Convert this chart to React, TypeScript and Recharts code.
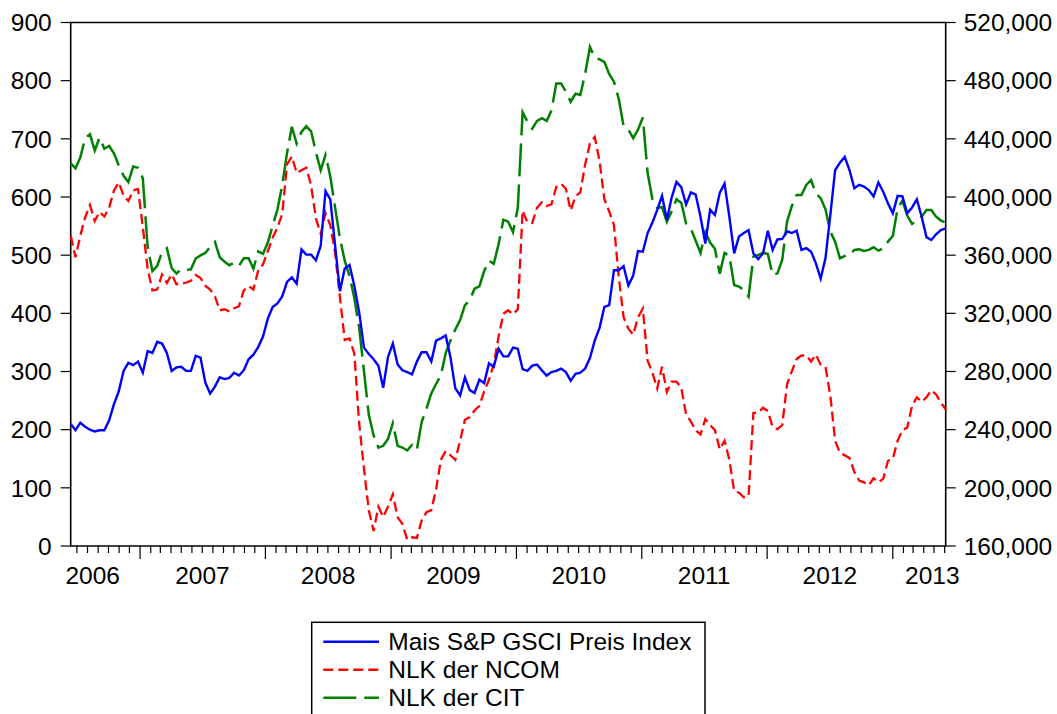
import React from 'react';
import { LineChart, Line, XAxis, YAxis, ReferenceArea } from 'recharts';

// Weekly COT data sampled every two weeks, starting 2006-06-13
const START = Date.UTC(2006, 5, 13);
const STEP_DAYS = 14;
const DAY = 86400000;

// Mais S&P GSCI Preis Index (left axis)
const maisIndex = [
  210, 199, 212, 205, 200, 197, 199, 199, 216, 244, 266, 301, 315, 311, 317, 298, 335, 332, 351, 348, 332, 301, 307, 308,
  301, 301, 327, 324, 281, 262, 274, 290, 287, 289, 298, 293, 302, 321, 329, 342, 360, 391, 411, 417, 429, 454,
  462, 451, 510, 501, 501, 491, 516, 610, 596, 516, 438, 477, 483, 447, 402, 341, 330, 321, 310, 272, 325, 348, 312, 302,
  299, 295, 317, 333, 333, 317, 353, 357, 362, 324, 271, 259, 290, 268, 263, 286, 280, 314, 308, 339, 326, 326,
  341, 339, 304, 301, 310, 312, 302, 293, 299, 301, 305, 299, 284, 296, 298, 305, 323, 353, 375, 411, 414, 474, 474, 481,
  448, 465, 507, 506, 538, 556, 578, 602, 561, 599, 626, 617, 587, 608, 604, 566, 520, 578, 569, 607, 623, 566,
  503, 532, 538, 543, 503, 493, 503, 542, 509, 527, 528, 541, 538, 542, 509, 512, 506, 486, 460, 495, 569, 646, 659, 669,
  646, 615, 621, 618, 612, 601, 625, 609, 589, 572, 602, 601, 572, 582, 596, 566, 531, 526, 536, 543, 546,
];

// NLK der NCOM, thousands of contracts (right axis)
const ncomK = [
  373.4, 358.6, 373.4, 385.9, 394.5, 383.5, 389.7, 386.6, 392.6, 404.5, 410.0, 400.9, 397.3, 404.5, 405.5, 379.4,
  350.7, 335.7, 336.4, 346.7, 340.9, 346.7, 340.0, 340.2, 341.2, 342.4, 346.4, 344.3, 339.0, 336.4, 331.6, 322.1,
  322.8, 321.3, 323.5, 324.9, 335.7, 338.8, 336.4, 349.5, 353.6, 362.7, 372.0, 378.9, 388.3, 422.4,
  427.9, 416.5, 418.4, 420.1, 408.1, 385.4, 374.6, 389.0, 380.6, 361.5, 330.9, 301.7, 302.7, 292.2, 244.4, 213.3,
  184.6, 170.3, 187.0, 179.9, 187.0, 195.6, 179.9, 175.1, 164.3, 166.0, 165.5, 177.5, 183.2, 184.6, 199.0, 219.3,
  225.3, 222.4, 219.3, 232.4, 246.8, 248.7, 253.2, 256.3, 266.4, 274.3, 285.0, 304.1, 319.7, 322.1,
  319.2, 322.8, 390.7, 382.5, 382.1, 392.6, 396.4, 393.8, 395.0, 406.9, 409.1, 405.7, 390.7, 400.5, 403.1, 422.4,
  436.8, 441.3, 424.8, 398.5, 390.2, 380.6, 344.8, 317.3, 309.4, 305.3, 317.3, 323.3, 287.4, 279.1, 268.3, 283.3,
  265.9, 273.1, 273.1, 268.8, 250.4, 245.6, 239.6, 236.7, 247.3, 243.2, 239.6, 226.5, 232.4, 219.3,
  197.8, 196.6, 193.5, 194.2, 251.6, 251.6, 255.1, 252.8, 242.0, 240.3, 243.2, 271.2, 280.2, 288.6, 291.0, 291.0,
  286.9, 291.7, 284.5, 283.1, 263.5, 232.4, 224.1, 222.4, 220.5, 210.9, 205.0, 203.8, 201.8, 206.6, 203.8, 206.2,
  218.6, 220.0, 232.4, 239.6, 241.5, 256.3, 262.3, 259.2, 262.3, 267.1, 264.2, 258.7, 253.9,
];

// NLK der CIT, thousands of contracts (right axis)
const citK = [
  423.2, 419.8, 427.2, 440.4, 443.2, 432.0, 440.8, 433.2, 435.1, 430.1, 421.7, 414.6, 410.3, 421.0, 420.1, 412.9,
  365.6, 349.1, 352.7, 362.2, 364.8, 351.2, 347.4, 350.3, 349.8, 350.3, 357.7, 359.8, 361.5, 365.8, 369.1, 358.6,
  355.5, 353.1, 354.8, 352.7, 357.9, 357.9, 350.7, 362.5, 361.0, 368.7, 380.1, 391.4, 408.1, 430.3,
  448.3, 436.8, 444.7, 448.7, 445.2, 430.8, 418.4, 428.9, 414.1, 392.6, 371.5, 356.2, 345.5, 330.4, 310.1, 280.2,
  250.4, 236.0, 227.7, 228.9, 233.6, 244.4, 228.9, 227.7, 225.7, 229.6, 226.2, 245.3, 254.4, 264.9, 271.4, 277.4,
  292.7, 301.3, 308.9, 315.4, 325.6, 329.0, 336.9, 338.6, 349.1, 356.2, 354.1, 367.5, 384.4, 383.0,
  375.8, 392.6, 458.3, 451.8, 447.0, 452.3, 454.2, 452.3, 459.5, 478.1, 478.1, 472.4, 465.5, 471.0, 470.2, 484.6,
  503.2, 495.8, 494.6, 492.9, 484.6, 479.3, 467.4, 448.7, 446.3, 440.4, 446.3, 454.7, 416.5, 398.5, 392.6, 393.0,
  383.0, 390.2, 398.5, 396.1, 381.8, 378.2, 369.9, 361.5, 375.8, 368.7, 364.4, 347.2, 361.5, 359.6,
  339.5, 338.4, 336.1, 331.5, 359.0, 360.1, 361.7, 360.8, 346.4, 347.5, 356.7, 383.1, 393.8, 401.4, 401.4, 408.3,
  411.7, 402.5, 399.1, 391.5, 376.2, 369.3, 357.9, 359.4, 360.1, 363.6, 364.0, 362.9, 363.6, 365.4, 363.1, 364.7,
  369.3, 373.2, 392.2, 397.5, 387.2, 381.5, 383.8, 386.5, 391.1, 391.1, 386.5, 383.8, 382.4,
];

const yearLabels = ['2006', '2007', '2008', '2009', '2010', '2011', '2012', '2013'];
const yearLabelDates = [
  Date.UTC(2006, 7, 16),
  Date.UTC(2007, 6, 1, 12),
  Date.UTC(2008, 6, 1, 12),
  Date.UTC(2009, 6, 1, 12),
  Date.UTC(2010, 6, 1, 12),
  Date.UTC(2011, 6, 1, 12),
  Date.UTC(2012, 6, 1, 12),
  Date.UTC(2013, 3, 26),
];
const leftTicks = [0, 100, 200, 300, 400, 500, 600, 700, 800, 900];
const rightTicks = [160, 200, 240, 280, 320, 360, 400, 440, 480, 520];

const seriesNames = ['Mais S&P GSCI Preis Index', 'NLK der NCOM', 'NLK der CIT'];
const seriesColors = ['#0000FF', '#FF0000', '#008000'];
const seriesDash = ['', '10 5', '33 8'];

const dates = maisIndex.map((_, i) => START + i * STEP_DAYS * DAY);
const END = dates[dates.length - 1];

const data = dates.map((t, i) => ({
  t,
  mais: maisIndex[i],
  ncom: ncomK[i],
  cit: citK[i],
}));

const monthTicks: number[] = [];
for (let y = 2006; y <= 2013; y++) {
  for (let m = 0; m < 12; m++) {
    const v = Date.UTC(y, m, 1);
    if (v > START && v <= END) monthTicks.push(v);
  }
}
const labelMap = new Map<number, string>();
yearLabelDates.forEach((d, i) => labelMap.set(d, yearLabels[i]));
const xTicks = [...monthTicks, ...yearLabelDates];

const FONT = "'Liberation Sans', Arial, Helvetica, sans-serif";
const FS = 24.5;

const XTick = (props: any) => {
  const { x, y, payload } = props;
  const v = payload.value as number;
  const label = labelMap.get(v);
  if (label) {
    return (
      <text x={x} y={y + 37.5} textAnchor="middle" fontSize={FS} fill="#000" fontFamily={FONT}>
        {label}
      </text>
    );
  }
  const isYear = new Date(v).getUTCMonth() === 0;
  return <line x1={x} x2={x} y1={y} y2={y + (isYear ? 13 : 7)} stroke="#000" strokeWidth={1.2} />;
};

export default function App() {
  return (
    <div style={{ position: 'absolute', left: 0, top: 0, width: 1057, height: 714, background: '#fff', fontFamily: FONT }}>
      <LineChart
        width={1057}
        height={714}
        data={data}
        margin={{ top: 22.5, right: 0, bottom: 0, left: 0 }}
        style={{ fontFamily: FONT }}
      >
        <XAxis
          dataKey="t"
          type="number"
          domain={[START, END]}
          ticks={xTicks}
          interval={0}
          height={168}
          axisLine={false}
          tickLine={false}
          tickSize={0}
          tickMargin={0}
          tick={<XTick />}
        />
        <YAxis
          yAxisId="left"
          orientation="left"
          width={70.7}
          domain={[0, 900]}
          ticks={leftTicks}
          interval={0}
          axisLine={false}
          tickLine={{ stroke: '#000', strokeWidth: 1.2 }}
          tickSize={10}
          tickMargin={9}
          tick={{ fontSize: FS, fill: '#000', fontFamily: FONT }}
        />
        <YAxis
          yAxisId="right"
          orientation="right"
          width={111.3}
          domain={[160, 520]}
          ticks={rightTicks}
          interval={0}
          axisLine={false}
          tickLine={{ stroke: '#000', strokeWidth: 1.2 }}
          tickSize={10}
          tickMargin={8}
          tickFormatter={(v: number) => `${v},000`}
          tick={{ fontSize: FS, fill: '#000', fontFamily: FONT }}
        />
        <ReferenceArea
          yAxisId="left"
          x1={START}
          x2={END}
          y1={0}
          y2={900}
          fill="none"
          fillOpacity={0}
          stroke="#000"
          strokeWidth={1.6}
        />
        <Line
          yAxisId="right"
          dataKey="cit"
          type="linear"
          stroke={seriesColors[2]}
          strokeWidth={2.5}
          strokeDasharray={seriesDash[2]}
          dot={false}
          activeDot={false}
          isAnimationActive={false}
        />
        <Line
          yAxisId="right"
          dataKey="ncom"
          type="linear"
          stroke={seriesColors[1]}
          strokeWidth={2.3}
          strokeDasharray={seriesDash[1]}
          dot={false}
          activeDot={false}
          isAnimationActive={false}
        />
        <Line
          yAxisId="left"
          dataKey="mais"
          type="linear"
          stroke={seriesColors[0]}
          strokeWidth={2.4}
          dot={false}
          activeDot={false}
          isAnimationActive={false}
        />
      </LineChart>
      <svg
        width={1057}
        height={714}
        style={{ position: 'absolute', left: 0, top: 0, pointerEvents: 'none' }}
      >
        <rect x={311.7} y={622.3} width={393.3} height={100} fill="#fff" stroke="#000" strokeWidth={1.5} />
        {seriesNames.map((name, i) => {
          const cy = 641.7 + i * 28;
          return (
            <g key={name}>
              <line
                x1={323.3}
                x2={379}
                y1={cy}
                y2={cy}
                stroke={seriesColors[i]}
                strokeWidth={2.5}
                strokeDasharray={seriesDash[i] || undefined}
              />
              <text x={388.3} y={cy + 8} fontSize={FS} fill="#000" fontFamily={FONT}>
                {name}
              </text>
            </g>
          );
        })}
      </svg>
    </div>
  );
}
